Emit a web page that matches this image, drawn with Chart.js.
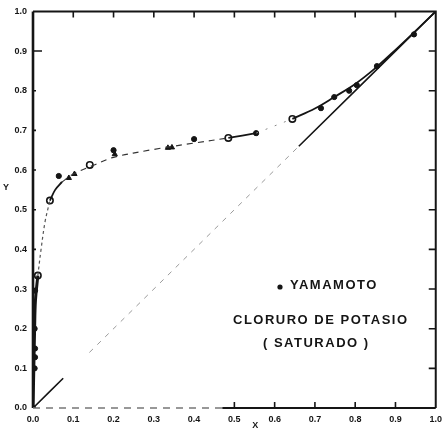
<!DOCTYPE html>
<html>
<head>
<meta charset="utf-8">
<script src="https://cdn.jsdelivr.net/npm/chart.js@4/dist/chart.umd.min.js"></script>
<style>
  html, body { margin: 0; padding: 0; background: #fff; }
  #c { display: block; }
</style>
</head>
<body>
<canvas id="c" width="448" height="439"></canvas>
<script>
// Tick values and labels (mole fraction, liquid x vs vapour y)
const tickValues = [0, 0.1, 0.2, 0.3, 0.4, 0.5, 0.6, 0.7, 0.8, 0.9, 1.0];
const tickLabels = ['0.0', '0.1', '0.2', '0.3', '0.4', '0.5', '0.6', '0.7', '0.8', '0.9', '1.0'];

// 45-degree reference line, drawn in three pieces
const diagonalLow = [[0, 0], [0.075, 0.075]];
const diagonalMid = [[0.14, 0.14], [0.66, 0.66]];
const diagonalHigh = [[0.66, 0.66], [1, 1]];

// Equilibrium curve, saturated KCl
const curveNearAxis = [[0, 0], [0.002, 0.1], [0.004, 0.2], [0.006, 0.27], [0.012, 0.334]];
const curveRise = [[0.012, 0.334], [0.02, 0.4], [0.03, 0.47], [0.042, 0.523]];
const curveKnee = [[0.042, 0.523], [0.055, 0.55], [0.072, 0.57]];
const curvePlateau = [[0.072, 0.57], [0.1, 0.59], [0.15, 0.612], [0.2, 0.632], [0.3, 0.652], [0.4, 0.668], [0.485, 0.681]];
const curvePlateauEnd = [[0.485, 0.681], [0.554, 0.693]];
const curveGap = [[0.554, 0.693], [0.644, 0.729]];
const curveUpper = [[0.644, 0.729], [0.7, 0.755], [0.748, 0.784], [0.8, 0.817], [0.85, 0.857], [0.9, 0.903], [0.95, 0.951], [1, 1]];

// Yamamoto data points
const filledPoints = [[0, 0], [0.004, 0.1], [0.005, 0.128], [0.005, 0.15], [0.004, 0.2], [0.005, 0.296],
  [0.064, 0.585], [0.2, 0.65], [0.4, 0.678], [0.554, 0.693], [0.715, 0.756], [0.748, 0.784],
  [0.785, 0.8], [0.804, 0.814], [0.854, 0.862], [0.946, 0.942]];
const openPoints = [[0.012, 0.334], [0.042, 0.523], [0.141, 0.613], [0.485, 0.681], [0.644, 0.729]];
const trianglePoints = [[0.089, 0.58], [0.103, 0.59], [0.203, 0.64], [0.335, 0.656], [0.345, 0.657]];

const legendDot = 'YAMAMOTO';
const noteLine1 = 'CLORURO DE POTASIO';
const noteLine2 = '( SATURADO )';

const toXY = arr => arr.map(p => ({ x: p[0], y: p[1] }));
const INK = '#151515';

function lineSet(data, width, dash, color) {
  return {
    data: toXY(data), showLine: true, pointRadius: 0, borderWidth: width,
    borderColor: color || INK, borderDash: dash || [], tension: 0.35, fill: false
  };
}

const datasets = [
  lineSet(diagonalLow, 1.6),
  lineSet(diagonalMid, 1, [5, 6], '#9a9a9a'),
  lineSet(diagonalHigh, 1.6),
  lineSet(curveNearAxis, 3),
  lineSet(curveRise, 1.2, [3, 3], '#555'),
  lineSet(curveKnee, 1.8),
  lineSet(curvePlateau, 1.2, [6, 5], '#333'),
  lineSet(curvePlateauEnd, 1.8),
  lineSet(curveGap, 1, [2, 8], '#888'),
  lineSet(curveUpper, 1.8),
  { data: toXY(filledPoints), pointRadius: 2.6, pointBackgroundColor: INK, pointBorderColor: INK, showLine: false },
  { data: toXY(openPoints), pointRadius: 3.2, pointBorderWidth: 1.6, pointBackgroundColor: '#fff', pointBorderColor: INK, showLine: false },
  { data: toXY(trianglePoints), pointStyle: 'triangle', pointRadius: 3, pointBackgroundColor: INK, pointBorderColor: INK, showLine: false }
];

// Frame with inward ticks, plus the annotation text
const framePlugin = {
  id: 'frame',
  afterDraw(chart) {
    const { ctx, chartArea: a, scales: { x, y } } = chart;
    ctx.save();
    ctx.strokeStyle = INK;
    ctx.lineCap = 'butt';
    // left
    ctx.lineWidth = 2.6;
    ctx.beginPath(); ctx.moveTo(a.left, a.top); ctx.lineTo(a.left, a.bottom); ctx.stroke();
    // top and right
    ctx.lineWidth = 2;
    ctx.beginPath(); ctx.moveTo(a.left, a.top); ctx.lineTo(a.right, a.top); ctx.lineTo(a.right, a.bottom); ctx.stroke();
    // bottom: broken on the left half, solid on the right half
    const xb = x.getPixelForValue(0.47);
    ctx.lineWidth = 1.6;
    ctx.setLineDash([7, 6]);
    ctx.strokeStyle = '#777';
    ctx.beginPath(); ctx.moveTo(a.left, a.bottom); ctx.lineTo(xb, a.bottom); ctx.stroke();
    ctx.setLineDash([]);
    ctx.strokeStyle = INK;
    ctx.lineWidth = 2;
    ctx.beginPath(); ctx.moveTo(xb, a.bottom); ctx.lineTo(a.right, a.bottom); ctx.stroke();

    ctx.lineWidth = 1.6;
    tickValues.forEach(v => {
      if (v <= 0 || v >= 1) return;
      const px = x.getPixelForValue(v);
      const py = y.getPixelForValue(v);
      ctx.beginPath();
      ctx.moveTo(px, a.top); ctx.lineTo(px, a.top + 6);
      if (v >= 0.5) { ctx.moveTo(px, a.bottom); ctx.lineTo(px, a.bottom - 6); }
      ctx.moveTo(a.right, py); ctx.lineTo(a.right - 7, py);
      ctx.moveTo(a.left, py); ctx.lineTo(a.left + (v === 0.9 ? 9 : 3), py);
      ctx.stroke();
    });

    // axis letters
    ctx.fillStyle = INK;
    ctx.font = 'bold 9px "Liberation Sans", Arial, sans-serif';
    ctx.textAlign = 'center';
    ctx.textBaseline = 'middle';
    ctx.fillText('Y', 6, 188);
    ctx.fillText('X', x.getPixelForValue(0.552), 426);

    // annotation
    ctx.font = 'bold 13px "Liberation Sans", Arial, sans-serif';
    ctx.letterSpacing = '1.5px';
    ctx.textAlign = 'left';
    ctx.fillText(legendDot, 290, 285);
    ctx.fillText(noteLine1, 233, 320);
    ctx.fillText(noteLine2, 263, 343);
    ctx.beginPath(); ctx.arc(280, 287, 2.6, 0, Math.PI * 2); ctx.fill();
    ctx.restore();
  }
};

const tickFont = { family: '"Liberation Sans", Arial, sans-serif', size: 9, weight: 'bold' };

new Chart(document.getElementById('c'), {
  type: 'scatter',
  data: { datasets },
  options: {
    responsive: false,
    animation: false,
    devicePixelRatio: 1,
    layout: { padding: { top: 10, right: 11, left: 0, bottom: 0 } },
    plugins: { legend: { display: false }, tooltip: { enabled: false } },
    scales: {
      x: {
        type: 'linear', min: 0, max: 1,
        afterBuildTicks: s => { s.ticks = tickValues.map(v => ({ value: v })); },
        afterFit: s => { s.height = 31; },
        grid: { display: false, drawTicks: false },
        border: { display: false },
        ticks: { callback: (v, i) => tickLabels[i], font: tickFont, color: INK, padding: 6, maxRotation: 0, autoSkip: false }
      },
      y: {
        type: 'linear', min: 0, max: 1,
        afterBuildTicks: s => { s.ticks = tickValues.map(v => ({ value: v })); },
        afterFit: s => { s.width = 33; },
        grid: { display: false, drawTicks: false },
        border: { display: false },
        ticks: { callback: (v, i) => tickLabels[i], font: tickFont, color: INK, padding: 6, autoSkip: false }
      }
    }
  },
  plugins: [framePlugin]
});
</script>
</body>
</html>
